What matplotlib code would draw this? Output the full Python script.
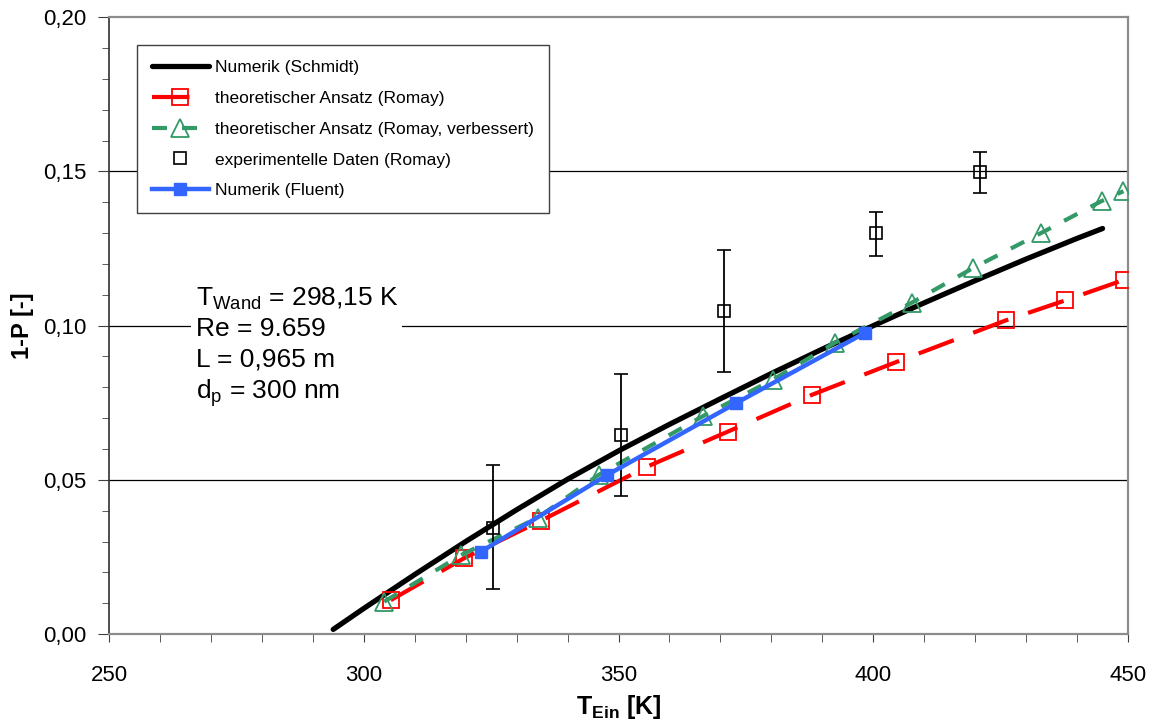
"""Penetration 1-P vs inlet temperature, Schmidt / Romay / Fluent comparison."""
import matplotlib
matplotlib.use("Agg")
import matplotlib.pyplot as plt
from matplotlib.lines import Line2D
from matplotlib.ticker import MultipleLocator, FuncFormatter

plt.rcParams["font.family"] = ["Liberation Sans", "DejaVu Sans"]
plt.rcParams["mathtext.fontset"] = "custom"
plt.rcParams["mathtext.rm"] = "Liberation Sans"
plt.rcParams["mathtext.it"] = "Liberation Sans:italic"
plt.rcParams["mathtext.bf"] = "Liberation Sans:bold"

# Numerik (Schmidt)
schmidt_t = [294, 300, 310, 320, 330, 340, 350, 360, 370, 380, 390, 400, 410, 420, 430, 440, 445]
schmidt_p = [0.0015, 0.0083, 0.0193, 0.0300, 0.0403, 0.0502, 0.0594, 0.0680, 0.0763, 0.0845,
             0.0924, 0.1000, 0.1074, 0.1146, 0.1216, 0.1283, 0.1315]

# theoretischer Ansatz (Romay)
romay_t = [305.3, 319.7, 334.7, 355.5, 371.4, 388.0, 404.5, 426.0, 437.7, 449.3]
romay_p = [0.0110, 0.0246, 0.0367, 0.0542, 0.0656, 0.0776, 0.0882, 0.1017, 0.1082, 0.1149]

# theoretischer Ansatz (Romay, verbessert)
romay2_t = [304.0, 319.1, 334.1, 346.1, 366.5, 380.3, 392.4, 407.5, 419.6, 433.0, 444.8, 449.1]
romay2_p = [0.0105, 0.0256, 0.0377, 0.0516, 0.0706, 0.0825, 0.0944, 0.1074, 0.1187, 0.1301, 0.1404, 0.1436]

# experimentelle Daten (Romay)
exp_t = [325.3, 350.5, 370.7, 400.6, 420.9]
exp_p = [0.0343, 0.0644, 0.1047, 0.1299, 0.1499]
exp_lo = [0.0146, 0.0446, 0.0849, 0.1225, 0.1430]
exp_hi = [0.0549, 0.0844, 0.1245, 0.1368, 0.1564]

# Numerik (Fluent)
fluent_t = [323.0, 347.8, 373.1, 398.3]
fluent_p = [0.0267, 0.0516, 0.0749, 0.0976]

FS = 16


def main():
    fig = plt.figure(figsize=(11.54, 7.2), dpi=100)
    ax = fig.add_axes([0.0945, 0.1194, 0.883, 0.8566])

    for y in (0.05, 0.10, 0.15):
        ax.axhline(y, color="black", lw=0.9, zorder=0.5)

    h1, = ax.plot(schmidt_t, schmidt_p, color="black", lw=3.8, solid_capstyle="round", zorder=3)
    h2, = ax.plot(romay_t, romay_p, color="#ff0000", lw=3.0, dashes=(9, 5),
                  marker="s", ms=11, mfc="none", mec="#ff0000", mew=1.3, zorder=3)
    h3, = ax.plot(romay2_t, romay2_p, color="#339966", lw=3.0, dashes=(3.6, 3.6),
                  marker="^", ms=13, mfc="none", mec="#339966", mew=1.3, zorder=3)
    err = [[p - lo for p, lo in zip(exp_p, exp_lo)], [hi - p for p, hi in zip(exp_p, exp_hi)]]
    ax.errorbar(exp_t, exp_p, yerr=err, fmt="s", ms=8, mfc="none", mec="black", mew=1.2,
                ecolor="black", elinewidth=1.3, capsize=5, capthick=1.3, zorder=4)
    h5, = ax.plot(fluent_t, fluent_p, color="#3366ff", lw=3.2, marker="s", ms=9,
                  mfc="#3366ff", mec="#3366ff", zorder=5)
    h4 = Line2D([], [], ls="none", marker="s", ms=8, mfc="none", mec="black", mew=1.2)

    ax.set_xlim(250, 450)
    ax.set_ylim(0, 0.20)
    ax.xaxis.set_major_locator(MultipleLocator(50))
    ax.xaxis.set_minor_locator(MultipleLocator(10))
    ax.yaxis.set_major_locator(MultipleLocator(0.05))
    ax.yaxis.set_minor_locator(MultipleLocator(0.01))
    ax.yaxis.set_major_formatter(FuncFormatter(lambda v, _: f"{v:.2f}".replace(".", ",")))
    ax.tick_params(axis="both", which="both", direction="out", labelsize=FS, color="#404040")
    ax.tick_params(axis="x", which="both", length=6, pad=16)
    ax.tick_params(axis="y", which="major", length=8, pad=8)
    ax.tick_params(axis="y", which="minor", length=5)

    for side in ("top", "right", "bottom"):
        ax.spines[side].set_color("#8c8c8c")
        ax.spines[side].set_linewidth(1.6)
    ax.spines["left"].set_color("#303030")
    ax.spines["left"].set_linewidth(1.2)

    ax.set_xlabel(r"$\mathbf{T}_{\mathbf{Ein}}$ [K]", fontsize=18, fontweight="bold", labelpad=5)
    ax.set_ylabel("1-P [-]", fontsize=17, fontweight="bold", labelpad=7)

    ax.text(0.085, 0.565,
            "T$_{\\mathrm{Wand}}$ = 298,15 K\nRe = 9.659\nL = 0,965 m\nd$_{\\mathrm{p}}$ = 300 nm",
            transform=ax.transAxes, fontsize=19, va="top", ha="left", linespacing=1.3,
            bbox=dict(facecolor="white", edgecolor="none", pad=3), zorder=2)

    labels = ["Numerik (Schmidt)", "theoretischer Ansatz (Romay)",
              "theoretischer Ansatz (Romay, verbessert)", "experimentelle Daten (Romay)",
              "Numerik (Fluent)"]
    leg = ax.legend([h1, h2, h3, h4, h5], labels, loc="upper left",
                    bbox_to_anchor=(0.0275, 0.9546), borderaxespad=0, fontsize=12.5,
                    numpoints=1, handlelength=3.3, handletextpad=0.35, labelspacing=0.9,
                    borderpad=0.85, fancybox=False, framealpha=1, edgecolor="#404040")
    leg.get_frame().set_linewidth(1.0)

    fig.savefig("out.png", dpi=100)
    plt.close(fig)


if __name__ == "__main__":
    main()
